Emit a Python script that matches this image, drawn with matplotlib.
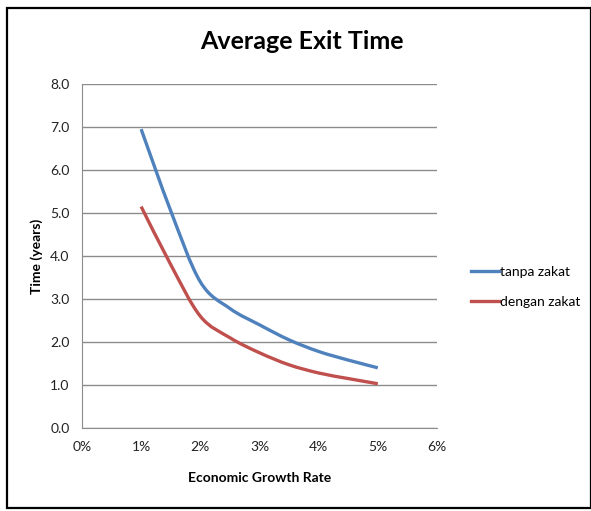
import matplotlib
matplotlib.use("Agg")
import matplotlib.pyplot as plt
import numpy as np
from matplotlib.path import Path
from matplotlib.patches import PathPatch, Rectangle
from matplotlib.lines import Line2D

plt.rcParams['font.family'] = ['Lato', 'DejaVu Sans']

# growth rate (%) and average exit time (years)
growth = [1.0, 1.5, 2.0, 2.5, 3.0, 3.5, 4.0, 4.5, 5.0]
tanpa_zakat = [6.95, 5.05, 3.4, 2.78, 2.4, 2.05, 1.78, 1.58, 1.40]
dengan_zakat = [5.15, 3.8, 2.6, 2.1, 1.75, 1.47, 1.28, 1.15, 1.03]
x_ticks = [0, 1, 2, 3, 4, 5, 6]
y_ticks = [0, 1, 2, 3, 4, 5, 6, 7, 8]

blue = '#4F81BD'
red = '#C0504D'


def smooth_path(xs, ys):
    # Excel-like smoothed line: Catmull-Rom segments as cubic Bezier curves
    pts = np.column_stack([xs, ys])
    verts = [pts[0]]
    codes = [Path.MOVETO]
    n = len(pts)
    for i in range(n - 1):
        p0 = pts[i - 1] if i > 0 else pts[i]
        p1 = pts[i]
        p2 = pts[i + 1]
        p3 = pts[i + 2] if i + 2 < n else pts[i + 1]
        c1 = p1 + (p2 - p0) / 6.0
        c2 = p2 - (p3 - p1) / 6.0
        verts += [c1, c2, p2]
        codes += [Path.CURVE4] * 3
    return Path(verts, codes)


fig = plt.figure(figsize=(5.91, 5.11), dpi=100)
ax = fig.add_axes([0.1387, 0.1624, 0.6007, 0.6732])

for ys, col in [(tanpa_zakat, blue), (dengan_zakat, red)]:
    patch = PathPatch(smooth_path(growth, ys), facecolor='none', edgecolor=col,
                      lw=2.4, capstyle='butt', zorder=3)
    ax.add_patch(patch)

ax.set_xlim(0, 6)
ax.set_ylim(0, 8)
ax.set_xticks(x_ticks)
ax.set_xticklabels([f"{v}%" for v in x_ticks])
ax.set_yticks(y_ticks)
ax.set_yticklabels([f"{v:.1f}" for v in y_ticks])
ax.tick_params(length=0, labelsize=10, pad=9, colors='#222222')
ax.yaxis.grid(True, color='#8c8c8c', lw=1)
ax.set_axisbelow(True)
for s in ['top', 'right']:
    ax.spines[s].set_visible(False)
for s in ['left', 'bottom']:
    ax.spines[s].set_color('#8c8c8c')

fig.text(0.51, 0.918, 'Average Exit Time', fontsize=18, fontweight='bold',
         ha='center', va='center')
ax.set_xlabel('Economic Growth Rate', fontsize=10, fontweight='bold', labelpad=14)
ax.set_ylabel('Time (years)', fontsize=10, fontweight='bold', labelpad=5)

handles = [Line2D([], [], color=blue, lw=2.4), Line2D([], [], color=red, lw=2.4)]
ax.legend(handles, ['tanpa zakat', 'dengan zakat'], loc='center left',
          bbox_to_anchor=(1.06, 0.41), frameon=False, fontsize=10,
          handlelength=2.0, handletextpad=0.1, labelspacing=1.3)

fig.patches.append(Rectangle((7 / 591, 3 / 511), 1 - 7 / 591, 500 / 511,
                             transform=fig.transFigure, fill=False,
                             edgecolor='black', lw=1.6))

fig.savefig('out.png', dpi=100)
